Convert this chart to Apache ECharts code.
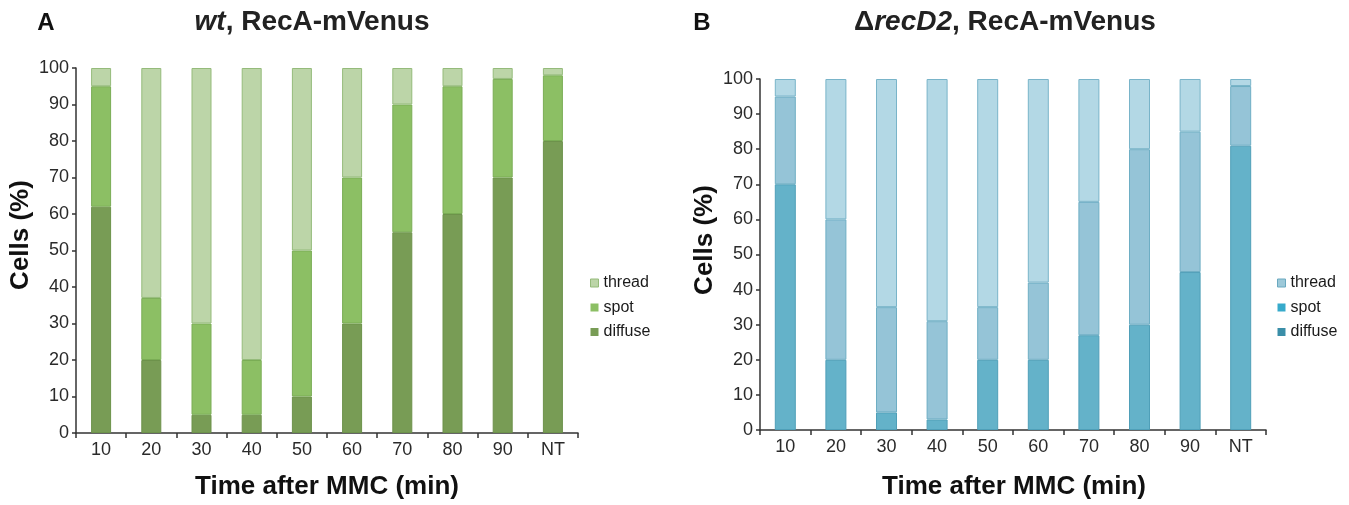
<!DOCTYPE html>
<html>
<head>
<meta charset="utf-8">
<script src="https://cdn.jsdelivr.net/npm/echarts@6/dist/echarts.min.js"></script>
<style>
html,body{margin:0;padding:0;background:#fff;}
#chart{width:1349px;height:505px;}
</style>
</head>
<body>
<div id="chart"></div>
<script>
// ---- data ----
var categories = ['10','20','30','40','50','60','70','80','90','NT'];
var wtDiffuse = [62,20,5,5,10,30,55,60,70,80];
var wtSpot    = [33,17,25,15,40,40,35,35,27,18];
var wtThread  = [5,63,70,80,50,30,10,5,3,2];
var recDiffuse = [70,20,5,3,20,20,27,30,45,81];
var recSpot    = [25,40,30,28,15,22,38,50,40,17];
var recThread  = [5,40,65,69,65,58,35,20,15,2];
var yTicks = {min:0, max:100, interval:10};

var FONT = 'Liberation Sans, Arial, sans-serif';
var chart = echarts.init(document.getElementById('chart'));

function yAxis(gi){
  return {
    type:'value', gridIndex:gi, min:yTicks.min, max:yTicks.max, interval:yTicks.interval,
    axisLine:{show:true, lineStyle:{color:'#333', width:1.5}},
    axisTick:{show:true, length:4, lineStyle:{color:'#333', width:1.5}},
    axisLabel:{fontSize:18, color:'#2a2a2a', margin:7, fontFamily:FONT},
    splitLine:{show:false}
  };
}
function xAxis(gi){
  return {
    type:'category', gridIndex:gi, data:categories, boundaryGap:true,
    axisLine:{show:true, lineStyle:{color:'#333', width:1.5}},
    axisTick:{show:true, length:5, lineStyle:{color:'#333', width:1.5}},
    axisLabel:{fontSize:18, color:'#2a2a2a', margin:8, fontFamily:FONT}
  };
}
function bar(name, data, gi, color, border, width, stack){
  return {
    name:name, type:'bar', stack:stack, xAxisIndex:gi, yAxisIndex:gi, data:data,
    barWidth:width,
    itemStyle:{color:color, borderColor:border, borderWidth:1},
    emphasis:{disabled:true}, animation:false
  };
}

var option = {
  backgroundColor:'#fff',
  animation:false,
  title:[
    {text:'{i|wt}, RecA-mVenus', left:312, top:8, textAlign:'center', padding:0,
     textStyle:{fontSize:28, fontWeight:'bold', color:'#222', fontFamily:FONT,
       rich:{i:{fontSize:28, fontWeight:'bold', fontStyle:'italic', color:'#222', fontFamily:FONT}}}},
    {text:'Δ{i|recD2}, RecA-mVenus', left:1005, top:8, textAlign:'center', padding:0,
     textStyle:{fontSize:28, fontWeight:'bold', color:'#222', fontFamily:FONT,
       rich:{i:{fontSize:28, fontWeight:'bold', fontStyle:'italic', color:'#222', fontFamily:FONT}}}},
    {text:'A', left:46, top:11, textAlign:'center', padding:0,
     textStyle:{fontSize:24, fontWeight:'bold', color:'#111', fontFamily:FONT}},
    {text:'B', left:702, top:11, textAlign:'center', padding:0,
     textStyle:{fontSize:24, fontWeight:'bold', color:'#111', fontFamily:FONT}}
  ],
  grid:[
    {left:76, top:68, width:502, height:365},
    {left:760, top:79, width:506, height:351}
  ],
  xAxis:[xAxis(0), xAxis(1)],
  yAxis:[yAxis(0), yAxis(1)],
  legend:[
    {orient:'vertical', left:585, top:270, itemWidth:8, itemHeight:8, itemGap:8.5, icon:'rect',
     selectedMode:false,
     textStyle:{fontSize:16, color:'#1a1a1a', fontFamily:FONT, lineHeight:16},
     data:[
       {name:'thread', itemStyle:{color:'#bcd5a8', borderColor:'#95bb7b', borderWidth:1}},
       {name:'spot', itemStyle:{color:'#8cbf64', borderColor:'#8cbf64', borderWidth:0}},
       {name:'diffuse', itemStyle:{color:'#789c55', borderColor:'#789c55', borderWidth:0}}
     ]},
    {orient:'vertical', left:1272, top:270, itemWidth:8, itemHeight:8, itemGap:8.5, icon:'rect',
     selectedMode:false,
     textStyle:{fontSize:16, color:'#1a1a1a', fontFamily:FONT, lineHeight:16},
     data:[
       {name:'thread', itemStyle:{color:'#9dc9d9', borderColor:'#6aa9c0', borderWidth:1}},
       {name:'spot', itemStyle:{color:'#37aacb', borderColor:'#37aacb', borderWidth:0}},
       {name:'diffuse', itemStyle:{color:'#3a8ea8', borderColor:'#3a8ea8', borderWidth:0}}
     ]}
  ],
  graphic:[
    {type:'text', x:21, y:235, rotation:Math.PI/2,
     style:{text:'Cells (%)', font:'bold 26px '+FONT, fill:'#111', textAlign:'center', textVerticalAlign:'middle', align:'center', verticalAlign:'middle'}},
    {type:'text', x:705, y:240, rotation:Math.PI/2,
     style:{text:'Cells (%)', font:'bold 26px '+FONT, fill:'#111', textAlign:'center', textVerticalAlign:'middle', align:'center', verticalAlign:'middle'}},
    {type:'text', x:327, y:487,
     style:{text:'Time after MMC (min)', font:'bold 26px '+FONT, fill:'#111', textAlign:'center', textVerticalAlign:'middle', align:'center', verticalAlign:'middle'}},
    {type:'text', x:1014, y:487,
     style:{text:'Time after MMC (min)', font:'bold 26px '+FONT, fill:'#111', textAlign:'center', textVerticalAlign:'middle', align:'center', verticalAlign:'middle'}}
  ],
  series:[
    bar('diffuse', wtDiffuse, 0, '#789c55', '#6d924b', 20, 'wt'),
    bar('spot', wtSpot, 0, '#8cbf64', '#7aad55', 20, 'wt'),
    bar('thread', wtThread, 0, '#bcd5a8', '#95bb7b', 20, 'wt'),
    bar('diffuse', recDiffuse, 1, '#64b2c9', '#4f9fb8', 21, 'rec'),
    bar('spot', recSpot, 1, '#95c4d7', '#6eaec4', 21, 'rec'),
    bar('thread', recThread, 1, '#b3d8e5', '#79b4c9', 21, 'rec')
  ]
};
chart.setOption(option);
</script>
</body>
</html>
